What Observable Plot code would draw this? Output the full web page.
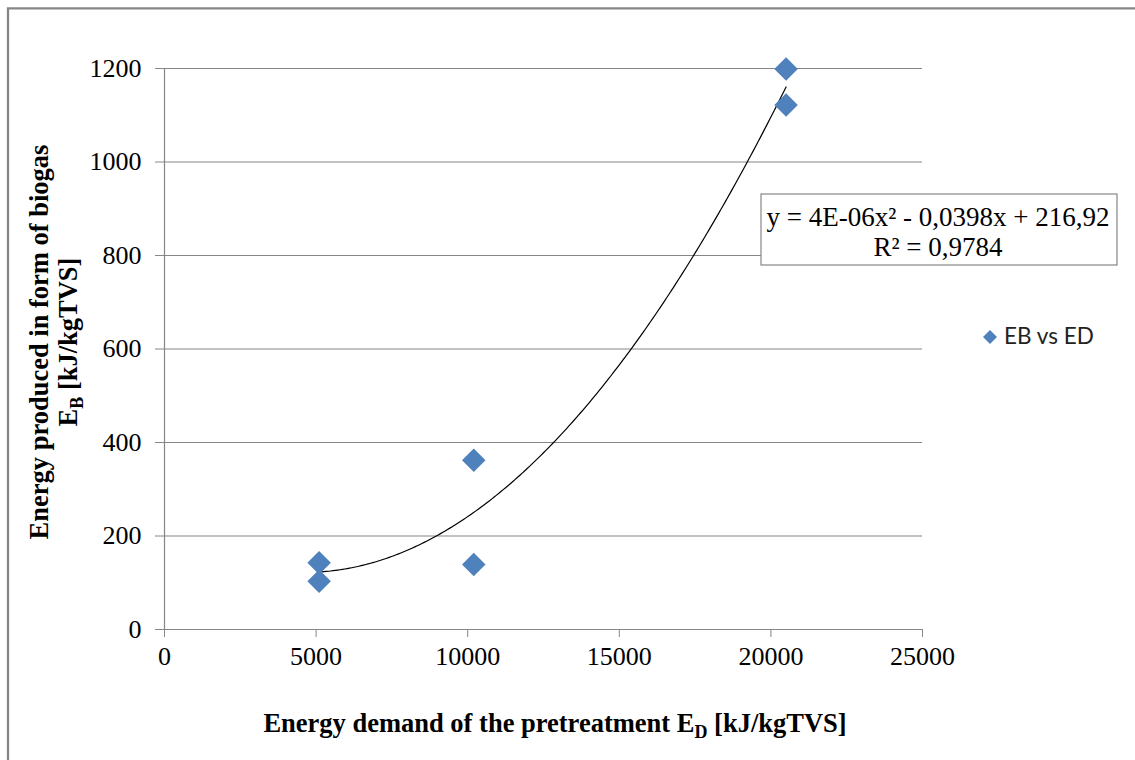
<!DOCTYPE html>
<html><head><meta charset="utf-8">
<script src="https://cdn.jsdelivr.net/npm/d3@7"></script>
<script src="https://cdn.jsdelivr.net/npm/@observablehq/plot@0.6"></script>
<style>html,body{margin:0;padding:0;background:#fff;overflow:hidden} #chart{position:relative;width:1135px;height:760px;overflow:hidden} #chart svg{display:block;max-width:none}</style>
</head><body><div id="chart"></div>
<script>
// Data
const energyDemand = [5100, 5100, 10200, 10200, 20500, 20500];   // E_D [kJ/kgTVS]
const energyBiogas = [143, 103, 362, 139, 1199, 1122];           // E_B [kJ/kgTVS]
const xTicks = [0, 5000, 10000, 15000, 20000, 25000];
const yTicks = [0, 200, 400, 600, 800, 1000, 1200];
const seriesName = "EB vs ED";
const equationLabel = "y = 4E-06x² - 0,0398x + 216,92";
const r2Label = "R² = 0,9784";

const rows = energyDemand.map((x, i) => ({x, y: energyBiogas[i]}));

// Polynomial (order 2) least-squares trendline fitted to the data
function quadFit(xs, ys) {
  const s = 1000; // scale for numerical stability
  const X = xs.map(v => v / s);
  const S = k => d3.sum(X, v => v ** k);
  const T = k => d3.sum(X, (v, i) => v ** k * ys[i]);
  const A = [[S(4), S(3), S(2)], [S(3), S(2), S(1)], [S(2), S(1), X.length]];
  const b = [T(2), T(1), T(0)];
  const det = m => m[0][0]*(m[1][1]*m[2][2]-m[1][2]*m[2][1]) - m[0][1]*(m[1][0]*m[2][2]-m[1][2]*m[2][0]) + m[0][2]*(m[1][0]*m[2][1]-m[1][1]*m[2][0]);
  const D = det(A);
  const coef = [0,1,2].map(c => det(A.map((row, r) => row.map((v, j) => j === c ? b[r] : v))) / D);
  return x => coef[0] * (x/s) ** 2 + coef[1] * (x/s) + coef[2];
}
const f = quadFit(energyDemand, energyBiogas);
const [xmin, xmax] = d3.extent(energyDemand);
const curve = d3.range(0, 201).map(i => { const x = xmin + (xmax - xmin) * i / 200; return {x, y: f(x)}; });

const grey = "#868686";
const serif = "'Liberation Serif', 'Times New Roman', serif";
const plot = Plot.plot({
  width: 1135, height: 760,
  marginLeft: 164, marginRight: 213, marginTop: 68, marginBottom: 131,
  style: {fontFamily: serif, fontSize: "26px", color: "#000", background: "transparent", overflow: "visible"},
  x: {domain: [0, 25000], label: null},
  y: {domain: [0, 1200], label: null},
  marks: [
    Plot.gridY(yTicks, {stroke: grey, strokeOpacity: 1, strokeWidth: 1.2}),
    Plot.axisY(yTicks, {tickSize: 9, tickPadding: 14, stroke: grey, fill: "#000", fontSize: 26, tickFormat: d => String(d), label: null}),
    Plot.axisX(xTicks, {tickSize: 8, tickPadding: 9, stroke: grey, fill: "#000", fontSize: 26, tickFormat: d => String(d), label: null}),
    Plot.ruleX([0], {stroke: grey, strokeWidth: 1.2}),
    Plot.ruleY([0], {stroke: grey, strokeWidth: 1.2}),
    Plot.line(curve, {x: "x", y: "y", stroke: "#000", strokeWidth: 1.2}),
    Plot.dot(rows, {x: "x", y: "y", symbol: "diamond2", r: 10.6, fill: "#4F81BD", stroke: "none"})
  ]
});
document.getElementById("chart").appendChild(plot);

const svg = d3.select(plot);
// outer chart border (only top and left edges are inside the picture)
svg.append("path").attr("d", "M8,800L8,8.3L1140,8.3")
  .attr("fill", "none").attr("stroke", grey).attr("stroke-width", 2.3);

// equation box
const eq = svg.append("g").attr("font-family", serif).attr("font-size", 27).attr("text-anchor", "middle");
eq.append("rect").attr("x", 761).attr("y", 194).attr("width", 356).attr("height", 71)
  .attr("fill", "#fff").attr("stroke", grey).attr("stroke-width", 1.2);
eq.append("text").attr("x", 938).attr("y", 226).text(equationLabel);
eq.append("text").attr("x", 938).attr("y", 256).text(r2Label);

// legend
const lg = svg.append("g");
lg.append("path").attr("d", "M990,330L997,337L990,344L983,337Z").attr("fill", "#4F81BD");
lg.append("text").attr("x", 1004).attr("y", 344).attr("text-anchor", "start")
  .attr("font-family", "Lato, 'Liberation Sans', sans-serif")
  .attr("font-size", 22.5).attr("fill", "#222").text(seriesName);

// x axis title
const xt = svg.append("text").attr("x", 555).attr("y", 732).attr("text-anchor", "middle")
  .attr("font-family", serif).attr("font-weight", "bold").attr("font-size", 26.5);
xt.append("tspan").text("Energy demand of the pretreatment E");
xt.append("tspan").attr("font-size", 18).attr("dy", 6).text("D");
xt.append("tspan").attr("dy", -6).text(" [kJ/kgTVS]");

// y axis title (two lines)
svg.append("text").attr("transform", "translate(48,342) rotate(-90)").attr("text-anchor", "middle")
  .attr("font-family", serif).attr("font-weight", "bold").attr("font-size", 26.5)
  .text("Energy produced in form of biogas");
const yt2 = svg.append("text").attr("transform", "translate(77,342) rotate(-90)").attr("text-anchor", "middle")
  .attr("font-family", serif).attr("font-weight", "bold").attr("font-size", 26.5);
yt2.append("tspan").text("E");
yt2.append("tspan").attr("font-size", 18).attr("dy", 6).text("B");
yt2.append("tspan").attr("dy", -6).text(" [kJ/kgTVS]");
</script>
</body></html>
